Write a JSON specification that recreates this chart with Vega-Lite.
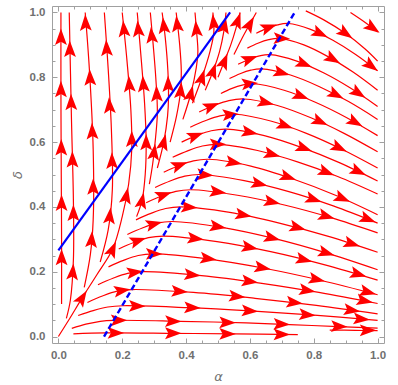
{
"$schema":"https://vega.github.io/schema/vega-lite/v6.json",
"width":332,"height":337,"autosize":"none",
"padding":{"left":52,"top":6,"right":14,"bottom":42},
"config":{"view":{"stroke":"#a0a0a0","strokeWidth":1},"axis":{"grid":false,"domain":false,"tickColor":"#a0a0a0","tickWidth":1,"labelFont":"Liberation Sans","labelFontSize":11.5,"labelFontWeight":"bold","labelColor":"#707070","titleFont":"DejaVu Sans","titleFontSize":13,"titleFontWeight":"normal","titleFontStyle":"italic","titleColor":"#707070"}},
"datasets":{
"lines":[
{"id":"V1","o":0,"a":0.01,"d":0.1},{"id":"V1","o":1,"a":0.01,"d":0.3},{"id":"V1","o":2,"a":0.009,"d":0.5},{"id":"V1","o":3,"a":0.008,"d":0.75},{"id":"V1","o":4,"a":0.008,"d":1.0},
{"id":"V2","o":0,"a":0.025,"d":0.056},{"id":"V2","o":1,"a":0.0375,"d":0.112},{"id":"V2","o":2,"a":0.047,"d":0.236},{"id":"V2","o":3,"a":0.047,"d":0.422},{"id":"V2","o":4,"a":0.041,"d":0.67},{"id":"V2","o":5,"a":0.034,"d":1.0},
{"id":"V3","o":0,"a":0.081,"d":0.152},{"id":"V3","o":1,"a":0.1,"d":0.252},{"id":"V3","o":2,"a":0.109,"d":0.36},{"id":"V3","o":3,"a":0.109,"d":0.578},{"id":"V3","o":4,"a":0.097,"d":0.826},{"id":"V3","o":5,"a":0.084,"d":1.0},
{"id":"V4","o":0,"a":0.131,"d":0.23},{"id":"V4","o":1,"a":0.156,"d":0.329},{"id":"V4","o":2,"a":0.169,"d":0.453},{"id":"V4","o":3,"a":0.166,"d":0.64},{"id":"V4","o":4,"a":0.156,"d":0.826},{"id":"V4","o":5,"a":0.144,"d":1.0},
{"id":"V5","o":0,"a":0.0,"d":0.0},{"id":"V5","o":1,"a":0.035,"d":0.055},{"id":"V5","o":2,"a":0.075,"d":0.12},{"id":"V5","o":3,"a":0.12,"d":0.19},{"id":"V5","o":4,"a":0.17,"d":0.27},{"id":"V5","o":5,"a":0.2,"d":0.37},{"id":"V5","o":6,"a":0.22,"d":0.47},{"id":"V5","o":7,"a":0.23,"d":0.58},{"id":"V5","o":8,"a":0.227,"d":0.7},{"id":"V5","o":9,"a":0.215,"d":0.85},{"id":"V5","o":10,"a":0.2,"d":1.0},
{"id":"V6","o":0,"a":0.245,"d":0.37},{"id":"V6","o":1,"a":0.262,"d":0.42},{"id":"V6","o":2,"a":0.272,"d":0.5},{"id":"V6","o":3,"a":0.275,"d":0.6},{"id":"V6","o":4,"a":0.27,"d":0.72},{"id":"V6","o":5,"a":0.26,"d":0.85},{"id":"V6","o":6,"a":0.247,"d":1.0},
{"id":"V7","o":0,"a":0.285,"d":0.47},{"id":"V7","o":1,"a":0.295,"d":0.53},{"id":"V7","o":2,"a":0.303,"d":0.6},{"id":"V7","o":3,"a":0.31,"d":0.69},{"id":"V7","o":4,"a":0.305,"d":0.8},{"id":"V7","o":5,"a":0.297,"d":0.9},{"id":"V7","o":6,"a":0.288,"d":1.0},
{"id":"V8","o":0,"a":0.31,"d":0.52},{"id":"V8","o":1,"a":0.33,"d":0.6},{"id":"V8","o":2,"a":0.342,"d":0.68},{"id":"V8","o":3,"a":0.345,"d":0.74},{"id":"V8","o":4,"a":0.343,"d":0.82},{"id":"V8","o":5,"a":0.335,"d":0.92},{"id":"V8","o":6,"a":0.325,"d":1.0},
{"id":"V9","o":0,"a":0.35,"d":0.6},{"id":"V9","o":1,"a":0.37,"d":0.68},{"id":"V9","o":2,"a":0.383,"d":0.76},{"id":"V9","o":3,"a":0.385,"d":0.82},{"id":"V9","o":4,"a":0.38,"d":0.9},{"id":"V9","o":5,"a":0.369,"d":1.0},
{"id":"V10","o":0,"a":0.39,"d":0.67},{"id":"V10","o":1,"a":0.415,"d":0.75},{"id":"V10","o":2,"a":0.432,"d":0.83},{"id":"V10","o":3,"a":0.437,"d":0.88},{"id":"V10","o":4,"a":0.433,"d":0.94},{"id":"V10","o":5,"a":0.428,"d":1.0},
{"id":"V11","o":0,"a":0.42,"d":0.72},{"id":"V11","o":1,"a":0.45,"d":0.8},{"id":"V11","o":2,"a":0.475,"d":0.88},{"id":"V11","o":3,"a":0.487,"d":0.94},{"id":"V11","o":4,"a":0.484,"d":1.0},
{"id":"V12","o":0,"a":0.46,"d":0.76},{"id":"V12","o":1,"a":0.485,"d":0.82},{"id":"V12","o":2,"a":0.505,"d":0.88},{"id":"V12","o":3,"a":0.518,"d":0.94},{"id":"V12","o":4,"a":0.525,"d":1.0},
{"id":"V13","o":0,"a":0.5,"d":0.8},{"id":"V13","o":1,"a":0.52,"d":0.85},{"id":"V13","o":2,"a":0.54,"d":0.9},{"id":"V13","o":3,"a":0.556,"d":0.95},{"id":"V13","o":4,"a":0.569,"d":1.0},
{"id":"V14","o":0,"a":0.55,"d":0.87},{"id":"V14","o":1,"a":0.575,"d":0.92},{"id":"V14","o":2,"a":0.6,"d":0.965},{"id":"V14","o":3,"a":0.62,"d":1.0},
{"id":"R1","o":0,"a":0.047,"d":0.008},{"id":"R1","o":1,"a":0.15,"d":0.011},{"id":"R1","o":2,"a":0.35,"d":0.01},{"id":"R1","o":3,"a":0.55,"d":0.008},{"id":"R1","o":4,"a":0.75,"d":0.006},
{"id":"R1b","o":0,"a":0.85,"d":0.02},{"id":"R1b","o":1,"a":0.93,"d":0.019},{"id":"R1b","o":2,"a":1.0,"d":0.018},
{"id":"R2","o":0,"a":0.042,"d":0.025},{"id":"R2","o":1,"a":0.086,"d":0.038},{"id":"R2","o":2,"a":0.131,"d":0.047},{"id":"R2","o":3,"a":0.175,"d":0.05},{"id":"R2","o":4,"a":0.381,"d":0.047},{"id":"R2","o":5,"a":0.588,"d":0.042},{"id":"R2","o":6,"a":0.794,"d":0.034},{"id":"R2","o":7,"a":1.0,"d":0.026},
{"id":"R3","o":0,"a":0.062,"d":0.065},{"id":"R3","o":1,"a":0.109,"d":0.08},{"id":"R3","o":2,"a":0.155,"d":0.091},{"id":"R3","o":3,"a":0.202,"d":0.095},{"id":"R3","o":4,"a":0.402,"d":0.089},{"id":"R3","o":5,"a":0.601,"d":0.079},{"id":"R3","o":6,"a":0.801,"d":0.066},{"id":"R3","o":7,"a":1.0,"d":0.05},
{"id":"R4","o":0,"a":0.091,"d":0.105},{"id":"R4","o":1,"a":0.138,"d":0.125},{"id":"R4","o":2,"a":0.184,"d":0.14},{"id":"R4","o":3,"a":0.231,"d":0.145},{"id":"R4","o":4,"a":0.423,"d":0.136},{"id":"R4","o":5,"a":0.616,"d":0.118},{"id":"R4","o":6,"a":0.808,"d":0.096},{"id":"R4","o":7,"a":1.0,"d":0.07},
{"id":"R5","o":0,"a":0.124,"d":0.16},{"id":"R5","o":1,"a":0.171,"d":0.18},{"id":"R5","o":2,"a":0.217,"d":0.195},{"id":"R5","o":3,"a":0.264,"d":0.2},{"id":"R5","o":4,"a":0.448,"d":0.188},{"id":"R5","o":5,"a":0.632,"d":0.165},{"id":"R5","o":6,"a":0.816,"d":0.136},{"id":"R5","o":7,"a":1.0,"d":0.102},
{"id":"R6","o":0,"a":0.157,"d":0.215},{"id":"R6","o":1,"a":0.204,"d":0.235},{"id":"R6","o":2,"a":0.25,"d":0.25},{"id":"R6","o":3,"a":0.297,"d":0.255},{"id":"R6","o":4,"a":0.473,"d":0.239},{"id":"R6","o":5,"a":0.649,"d":0.21},{"id":"R6","o":6,"a":0.824,"d":0.173},{"id":"R6","o":7,"a":1.0,"d":0.129},
{"id":"R7","o":0,"a":0.189,"d":0.27},{"id":"R7","o":1,"a":0.236,"d":0.29},{"id":"R7","o":2,"a":0.282,"d":0.305},{"id":"R7","o":3,"a":0.329,"d":0.31},{"id":"R7","o":4,"a":0.497,"d":0.293},{"id":"R7","o":5,"a":0.665,"d":0.262},{"id":"R7","o":6,"a":0.832,"d":0.222},{"id":"R7","o":7,"a":1.0,"d":0.174},
{"id":"R8","o":0,"a":0.216,"d":0.315},{"id":"R8","o":1,"a":0.263,"d":0.335},{"id":"R8","o":2,"a":0.309,"d":0.35},{"id":"R8","o":3,"a":0.356,"d":0.355},{"id":"R8","o":4,"a":0.517,"d":0.336},{"id":"R8","o":5,"a":0.678,"d":0.302},{"id":"R8","o":6,"a":0.839,"d":0.258},{"id":"R8","o":7,"a":1.0,"d":0.206},
{"id":"R9","o":0,"a":0.243,"d":0.36},{"id":"R9","o":1,"a":0.29,"d":0.38},{"id":"R9","o":2,"a":0.336,"d":0.395},{"id":"R9","o":3,"a":0.383,"d":0.4},{"id":"R9","o":4,"a":0.537,"d":0.383},{"id":"R9","o":5,"a":0.692,"d":0.35},{"id":"R9","o":6,"a":0.846,"d":0.309},{"id":"R9","o":7,"a":1.0,"d":0.26},
{"id":"R10","o":0,"a":0.275,"d":0.413},{"id":"R10","o":1,"a":0.322,"d":0.433},{"id":"R10","o":2,"a":0.368,"d":0.448},{"id":"R10","o":3,"a":0.415,"d":0.453},{"id":"R10","o":4,"a":0.561,"d":0.436},{"id":"R10","o":5,"a":0.708,"d":0.406},{"id":"R10","o":6,"a":0.854,"d":0.367},{"id":"R10","o":7,"a":1.0,"d":0.32},
{"id":"R11","o":0,"a":0.303,"d":0.46},{"id":"R11","o":1,"a":0.35,"d":0.48},{"id":"R11","o":2,"a":0.396,"d":0.495},{"id":"R11","o":3,"a":0.443,"d":0.5},{"id":"R11","o":4,"a":0.582,"d":0.481},{"id":"R11","o":5,"a":0.722,"d":0.447},{"id":"R11","o":6,"a":0.861,"d":0.403},{"id":"R11","o":7,"a":1.0,"d":0.35},
{"id":"R12","o":0,"a":0.33,"d":0.507},{"id":"R12","o":1,"a":0.377,"d":0.527},{"id":"R12","o":2,"a":0.423,"d":0.542},{"id":"R12","o":3,"a":0.47,"d":0.547},{"id":"R12","o":4,"a":0.603,"d":0.526},{"id":"R12","o":5,"a":0.735,"d":0.486},{"id":"R12","o":6,"a":0.868,"d":0.436},{"id":"R12","o":7,"a":1.0,"d":0.376},
{"id":"R13","o":0,"a":0.358,"d":0.553},{"id":"R13","o":1,"a":0.405,"d":0.573},{"id":"R13","o":2,"a":0.451,"d":0.588},{"id":"R13","o":3,"a":0.498,"d":0.593},{"id":"R13","o":4,"a":0.624,"d":0.574},{"id":"R13","o":5,"a":0.749,"d":0.539},{"id":"R13","o":6,"a":0.875,"d":0.494},{"id":"R13","o":7,"a":1.0,"d":0.44},
{"id":"R14","o":0,"a":0.386,"d":0.6},{"id":"R14","o":1,"a":0.433,"d":0.62},{"id":"R14","o":2,"a":0.479,"d":0.635},{"id":"R14","o":3,"a":0.526,"d":0.64},{"id":"R14","o":4,"a":0.645,"d":0.62},{"id":"R14","o":5,"a":0.763,"d":0.583},{"id":"R14","o":6,"a":0.882,"d":0.536},{"id":"R14","o":7,"a":1.0,"d":0.48},
{"id":"R15","o":0,"a":0.413,"d":0.646},{"id":"R15","o":1,"a":0.46,"d":0.666},{"id":"R15","o":2,"a":0.506,"d":0.681},{"id":"R15","o":3,"a":0.553,"d":0.686},{"id":"R15","o":4,"a":0.665,"d":0.665},{"id":"R15","o":5,"a":0.777,"d":0.627},{"id":"R15","o":6,"a":0.888,"d":0.578},{"id":"R15","o":7,"a":1.0,"d":0.52},
{"id":"R16","o":0,"a":0.441,"d":0.693},{"id":"R16","o":1,"a":0.488,"d":0.713},{"id":"R16","o":2,"a":0.534,"d":0.728},{"id":"R16","o":3,"a":0.581,"d":0.733},{"id":"R16","o":4,"a":0.686,"d":0.713},{"id":"R16","o":5,"a":0.791,"d":0.675},{"id":"R16","o":6,"a":0.895,"d":0.627},{"id":"R16","o":7,"a":1.0,"d":0.57},
{"id":"R17","o":0,"a":0.509,"d":0.75},{"id":"R17","o":1,"a":0.542,"d":0.765},{"id":"R17","o":2,"a":0.576,"d":0.776},{"id":"R17","o":3,"a":0.609,"d":0.78},{"id":"R17","o":4,"a":0.707,"d":0.76},{"id":"R17","o":5,"a":0.805,"d":0.723},{"id":"R17","o":6,"a":0.902,"d":0.676},{"id":"R17","o":7,"a":1.0,"d":0.62},
{"id":"R18","o":0,"a":0.536,"d":0.796},{"id":"R18","o":1,"a":0.569,"d":0.811},{"id":"R18","o":2,"a":0.603,"d":0.822},{"id":"R18","o":3,"a":0.636,"d":0.826},{"id":"R18","o":4,"a":0.727,"d":0.807},{"id":"R18","o":5,"a":0.818,"d":0.771},{"id":"R18","o":6,"a":0.909,"d":0.725},{"id":"R18","o":7,"a":1.0,"d":0.67},
{"id":"R19","o":0,"a":0.563,"d":0.84},{"id":"R19","o":1,"a":0.596,"d":0.855},{"id":"R19","o":2,"a":0.63,"d":0.866},{"id":"R19","o":3,"a":0.663,"d":0.87},{"id":"R19","o":4,"a":0.747,"d":0.85},{"id":"R19","o":5,"a":0.832,"d":0.813},{"id":"R19","o":6,"a":0.916,"d":0.766},{"id":"R19","o":7,"a":1.0,"d":0.71},
{"id":"R20","o":0,"a":0.592,"d":0.89},{"id":"R20","o":1,"a":0.625,"d":0.905},{"id":"R20","o":2,"a":0.659,"d":0.916},{"id":"R20","o":3,"a":0.692,"d":0.92},{"id":"R20","o":4,"a":0.769,"d":0.9},{"id":"R20","o":5,"a":0.846,"d":0.863},{"id":"R20","o":6,"a":0.923,"d":0.816},{"id":"R20","o":7,"a":1.0,"d":0.76},
{"id":"R21","o":0,"a":0.62,"d":0.936},{"id":"R21","o":1,"a":0.653,"d":0.951},{"id":"R21","o":2,"a":0.687,"d":0.962},{"id":"R21","o":3,"a":0.72,"d":0.966},{"id":"R21","o":4,"a":0.79,"d":0.948},{"id":"R21","o":5,"a":0.86,"d":0.914},{"id":"R21","o":6,"a":0.93,"d":0.871},{"id":"R21","o":7,"a":1.0,"d":0.82},
{"id":"T1","o":0,"a":0.775,"d":1.005},{"id":"T1","o":1,"a":0.83,"d":0.978},{"id":"T1","o":2,"a":0.9,"d":0.935},{"id":"T1","o":3,"a":0.96,"d":0.888},{"id":"T1","o":4,"a":1.0,"d":0.85},
{"id":"T2","o":0,"a":0.915,"d":1.0},{"id":"T2","o":1,"a":0.96,"d":0.97},{"id":"T2","o":2,"a":1.0,"d":0.94}
],
"arrows":[
{"a":0.008,"d":0.925,"ang":-90},{"a":0.008,"d":0.764,"ang":-90},{"a":0.009,"d":0.584,"ang":-90},{"a":0.01,"d":0.413,"ang":-90},{"a":0.01,"d":0.245,"ang":-90},
{"a":0.036,"d":0.888,"ang":-91},{"a":0.04,"d":0.724,"ang":-91},{"a":0.044,"d":0.547,"ang":-90.5},{"a":0.047,"d":0.382,"ang":-90},{"a":0.045,"d":0.2,"ang":-85},
{"a":0.085,"d":0.969,"ang":-92},{"a":0.099,"d":0.8,"ang":-92.5},{"a":0.106,"d":0.634,"ang":-92},{"a":0.109,"d":0.463,"ang":-90},{"a":0.104,"d":0.3,"ang":-86},
{"a":0.151,"d":0.891,"ang":-93},{"a":0.16,"d":0.714,"ang":-93},{"a":0.168,"d":0.543,"ang":-91},{"a":0.161,"d":0.373,"ang":-84},
{"a":0.075,"d":0.12,"ang":-58},{"a":0.17,"d":0.27,"ang":-66},{"a":0.213,"d":0.435,"ang":-79},{"a":0.23,"d":0.61,"ang":-90.5},{"a":0.222,"d":0.78,"ang":-94},{"a":0.205,"d":0.95,"ang":-95},
{"a":0.262,"d":0.42,"ang":-78},{"a":0.275,"d":0.6,"ang":-90},{"a":0.266,"d":0.78,"ang":-94},{"a":0.25,"d":0.95,"ang":-95},
{"a":0.3,"d":0.57,"ang":-83},{"a":0.308,"d":0.75,"ang":-92},{"a":0.292,"d":0.93,"ang":-95},
{"a":0.33,"d":0.6,"ang":-76},{"a":0.344,"d":0.78,"ang":-91},{"a":0.33,"d":0.96,"ang":-96},
{"a":0.383,"d":0.76,"ang":-85},{"a":0.372,"d":0.965,"ang":-96},
{"a":0.415,"d":0.75,"ang":-76},{"a":0.432,"d":0.95,"ang":-95},
{"a":0.45,"d":0.8,"ang":-73},{"a":0.486,"d":0.97,"ang":-96},
{"a":0.485,"d":0.82,"ang":-72},{"a":0.52,"d":0.96,"ang":-80},
{"a":0.52,"d":0.85,"ang":-68},{"a":0.562,"d":0.975,"ang":-71},
{"a":0.6,"d":0.965,"ang":-61},
{"a":0.18,"d":0.011,"ang":0},{"a":0.36,"d":0.01,"ang":0.3},{"a":0.53,"d":0.008,"ang":0.5},{"a":0.7,"d":0.0065,"ang":0.5},{"a":0.97,"d":0.019,"ang":0},
{"a":0.19,"d":0.05,"ang":0},{"a":0.36,"d":0.047,"ang":1},{"a":0.53,"d":0.043,"ang":1.3},{"a":0.7,"d":0.038,"ang":1.8},{"a":0.88,"d":0.031,"ang":2.2},
{"a":0.247,"d":0.094,"ang":1},{"a":0.42,"d":0.089,"ang":2.5},{"a":0.6,"d":0.079,"ang":3.4},{"a":0.78,"d":0.067,"ang":4.1},{"a":0.95,"d":0.054,"ang":4.7},
{"a":0.2,"d":0.142,"ang":-8.7},{"a":0.38,"d":0.139,"ang":3.7},{"a":0.56,"d":0.124,"ang":5.5},{"a":0.74,"d":0.105,"ang":6.8},{"a":0.92,"d":0.081,"ang":7.9},
{"a":0.24,"d":0.198,"ang":-7.1},{"a":0.42,"d":0.19,"ang":5.3},{"a":0.6,"d":0.17,"ang":7.7},{"a":0.78,"d":0.142,"ang":9.5},{"a":0.96,"d":0.11,"ang":11},
{"a":0.3,"d":0.255,"ang":0},{"a":0.47,"d":0.24,"ang":7.6},{"a":0.64,"d":0.212,"ang":10.6},{"a":0.81,"d":0.176,"ang":12.9},{"a":0.97,"d":0.137,"ang":14.7},
{"a":0.25,"d":0.296,"ang":-18},{"a":0.43,"d":0.302,"ang":6.7},{"a":0.6,"d":0.275,"ang":10.9},{"a":0.77,"d":0.237,"ang":13.8},{"a":0.94,"d":0.192,"ang":16.2},
{"a":0.3,"d":0.347,"ang":-13.9},{"a":0.5,"d":0.339,"ang":9.3},{"a":0.67,"d":0.304,"ang":13.6},{"a":0.84,"d":0.258,"ang":16.7},
{"a":0.41,"d":0.399,"ang":4.1},{"a":0.58,"d":0.375,"ang":10.9},{"a":0.75,"d":0.336,"ang":14.7},{"a":0.92,"d":0.286,"ang":17.6},
{"a":0.33,"d":0.437,"ang":-19},{"a":0.5,"d":0.446,"ang":7.4},{"a":0.67,"d":0.415,"ang":12.7},{"a":0.84,"d":0.371,"ang":16.2},
{"a":0.46,"d":0.499,"ang":4},{"a":0.63,"d":0.471,"ang":13.2},{"a":0.8,"d":0.423,"ang":17.9},{"a":0.97,"d":0.362,"ang":21.5},
{"a":0.38,"d":0.529,"ang":-19.9},{"a":0.55,"d":0.537,"ang":10.7},{"a":0.72,"d":0.492,"ang":18.4},{"a":0.89,"d":0.426,"ang":23.3},
{"a":0.5,"d":0.593,"ang":0},{"a":0.67,"d":0.562,"ang":15},{"a":0.84,"d":0.507,"ang":20.7},
{"a":0.43,"d":0.62,"ang":-20.8},{"a":0.6,"d":0.63,"ang":11.3},{"a":0.77,"d":0.581,"ang":20},{"a":0.94,"d":0.509,"ang":25.3},
{"a":0.54,"d":0.685,"ang":-4.4},{"a":0.71,"d":0.651,"ang":18.3},{"a":0.88,"d":0.582,"ang":25.5},
{"a":0.48,"d":0.711,"ang":-21.6},{"a":0.65,"d":0.722,"ang":13.3},{"a":0.82,"d":0.663,"ang":23.8},
{"a":0.6,"d":0.78,"ang":-4.5},{"a":0.76,"d":0.742,"ang":20.9},{"a":0.93,"d":0.661,"ang":29.1},
{"a":0.7,"d":0.814,"ang":15.1},{"a":0.87,"d":0.746,"ang":27.3},
{"a":0.6,"d":0.857,"ang":-20.5},{"a":0.77,"d":0.841,"ang":21.9},{"a":0.94,"d":0.751,"ang":32.9},
{"a":0.7,"d":0.92,"ang":2},{"a":0.86,"d":0.856,"ang":29.9},
{"a":0.66,"d":0.954,"ang":-19.7},{"a":0.82,"d":0.935,"ang":25.1},{"a":0.98,"d":0.835,"ang":37},
{"a":0.9,"d":0.935,"ang":34.7},{"a":0.985,"d":0.952,"ang":35}
],
"solid":[{"a":0.0,"d":0.266},{"a":0.538,"d":1.0}],
"dashed":[{"a":0.143,"d":0.0},{"a":0.74,"d":1.0}]
},
"layer":[
{"data":{"name":"lines"},
"mark":{"type":"line","color":"#ff0000","strokeWidth":1.2,"interpolate":"catmull-rom","clip":true},
"encoding":{
"x":{"field":"a","type":"quantitative","scale":{"domain":[-0.02,1.02],"nice":false,"zero":false},
"axis":{"orient":"bottom","values":[0,0.2,0.4,0.6,0.8,1],"format":".1f","tickSize":-5,"labelPadding":11,"title":"α","titlePadding":10}},
"y":{"field":"d","type":"quantitative","scale":{"domain":[-0.02,1.02],"nice":false,"zero":false},
"axis":{"orient":"left","values":[0,0.2,0.4,0.6,0.8,1],"format":".1f","tickSize":-5,"labelPadding":12,"title":"δ","titlePadding":5}},
"detail":{"field":"id"},
"order":{"field":"o","type":"quantitative"}}},
{"data":{"name":"arrows"},
"mark":{"type":"point","shape":"M1,0L-1,-0.72L-0.6,0L-1,0.72Z","filled":true,"color":"#ff0000","opacity":1,"size":270,"clip":true},
"encoding":{
"x":{"field":"a","type":"quantitative","axis":{"orient":"bottom","values":[0.05,0.1,0.15,0.25,0.3,0.35,0.45,0.5,0.55,0.65,0.7,0.75,0.85,0.9,0.95],"tickSize":-3,"labels":false,"title":null}},
"y":{"field":"d","type":"quantitative","axis":{"orient":"left","values":[0.05,0.1,0.15,0.25,0.3,0.35,0.45,0.5,0.55,0.65,0.7,0.75,0.85,0.9,0.95],"tickSize":-3,"labels":false,"title":null}},
"angle":{"field":"ang","type":"quantitative","scale":null}}},
{"data":{"name":"solid"},
"mark":{"type":"line","color":"#0000ff","strokeWidth":2.2},
"encoding":{
"x":{"field":"a","type":"quantitative","axis":{"orient":"top","values":[0,0.2,0.4,0.6,0.8,1],"tickSize":-5,"labels":false,"title":null}},
"y":{"field":"d","type":"quantitative","axis":{"orient":"right","values":[0,0.2,0.4,0.6,0.8,1],"tickSize":-5,"labels":false,"title":null}}}},
{"data":{"name":"dashed"},
"mark":{"type":"line","color":"#0000ff","strokeWidth":2.4,"strokeDash":[6,3]},
"encoding":{
"x":{"field":"a","type":"quantitative","axis":{"orient":"top","values":[0.05,0.1,0.15,0.25,0.3,0.35,0.45,0.5,0.55,0.65,0.7,0.75,0.85,0.9,0.95],"tickSize":-3,"labels":false,"title":null}},
"y":{"field":"d","type":"quantitative","axis":{"orient":"right","values":[0.05,0.1,0.15,0.25,0.3,0.35,0.45,0.5,0.55,0.65,0.7,0.75,0.85,0.9,0.95],"tickSize":-3,"labels":false,"title":null}}}}
],
"resolve":{"axis":{"x":"independent","y":"independent"}}
}
